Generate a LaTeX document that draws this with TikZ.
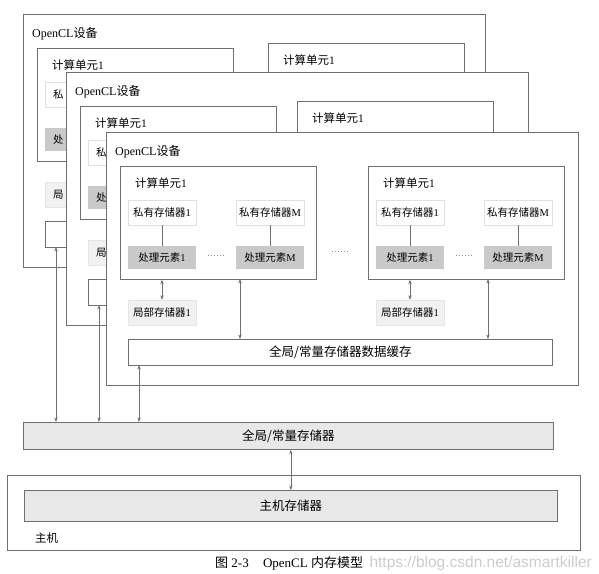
\documentclass[tikz,border=0pt]{standalone}
\usepackage{fontspec}
\setmainfont{Liberation Serif}
\newfontfamily\cjk{Noto Sans CJK SC}
\newfontfamily\wmfont{Liberation Sans}
\newcommand\zh[1]{{\cjk #1}}
\usepackage{tikz}
\usetikzlibrary{arrows.meta,positioning}
\usepackage{xcolor}
\definecolor{memline}{RGB}{112,112,112}
\definecolor{pefill}{RGB}{201,201,201}
\definecolor{locfill}{RGB}{241,241,241}
\definecolor{glbfill}{RGB}{232,232,232}
\tikzstyle{devframe} = [draw=memline, fill=white, line width=0.7pt, inner sep=0, anchor=north west]
\tikzstyle{unitbox} = [devframe, minimum width=196, minimum height=113]
\tikzstyle{cachebox} = [devframe, minimum width=424, minimum height=26]
\tikzstyle{title} = [anchor=west, inner sep=0, font=\fontsize{12}{14}\selectfont]
\tikzstyle{unitlbl} = [anchor=west, inner sep=0, font=\fontsize{11.5}{13}\selectfont]
\tikzstyle{privbox} = [draw=black!12, fill=white, minimum width=68, minimum height=25, inner sep=0, font=\fontsize{10.5}{12}\selectfont]
\tikzstyle{pebox} = [fill=pefill, minimum width=68, minimum height=23, inner sep=0, font=\fontsize{10.5}{12}\selectfont]
\tikzstyle{locbox} = [draw=black!10, fill=locfill, minimum width=68, minimum height=25, inner sep=0, font=\fontsize{10.5}{12}\selectfont]
\tikzstyle{part} = [text width=52, align=left]
\tikzstyle{membox} = [draw=memline, fill=glbfill, line width=0.7pt, inner sep=0, anchor=north west, font=\fontsize{12.5}{14}\selectfont]
\tikzstyle{more} = [inner sep=0, text=memline, font=\fontsize{9}{10}\selectfont]
\tikzstyle{memlink} = [draw=memline, line width=0.6pt, <->, >={Stealth[length=4.5pt,width=3.4pt]}]

\begin{document}
\begin{tikzpicture}[x=1pt, y=-1pt]
\useasboundingbox (0,0) rectangle (599,573);

% global memory and host
\node[membox, minimum width=530, minimum height=27] (gmem) at (23,422) {\zh{全局/常量存储器}};
\node[devframe, minimum width=573, minimum height=75] (host) at (7,475) {};
\node[membox, minimum width=533, minimum height=31] (hmem) at (24,490) {\zh{主机存储器}};
\node[unitlbl] (host-name) at (35,538) {\zh{主机}};
\draw[memlink] (hmem.north) -- (hmem.north |- gmem.south);

% OpenCL devices, back to front (only the front one is seen whole)
\foreach \dn/\dx/\dy/\dw/\rx/\ry/\full in {da/23/14/462/245/29/0, db/66/72/462/231/29/0, dc/106/132/472/262/34/1}{
  \node[devframe, minimum width=\dw, minimum height=253] (\dn) at (\dx,\dy) {};
  \node[title] (\dn-name) at (\dx+9,\dy+20) {OpenCL\zh{设备}};
  \node[cachebox] (\dn-cache) at (\dx+22,\dy+207) {};
  \coordinate (\dn-port) at (\dx+33,\dy+233);
  \foreach \cu/\cx/\cy in {cu1/\dx+14/\dy+34, cu2/\dx+\rx/\dy+\ry}{
    \node[unitbox] (\dn-\cu) at (\cx,\cy) {};
    \node[unitlbl] (\dn-\cu-name) at (\cx+15,\cy+17) {\zh{计算单元}1};
    \ifnum\full=1
      \node[privbox] (\dn-\cu-p1) at (\cx+42,\cy+46.5) {\zh{私有存储器}1};
      \node[privbox] (\dn-\cu-pm) at (\cx+150,\cy+46.5) {\zh{私有存储器}M};
      \node[pebox] (\dn-\cu-e1) at (\cx+42,\cy+91.5) {\zh{处理元素}1};
      \node[pebox] (\dn-\cu-em) at (\cx+150,\cy+91.5) {\zh{处理元素}M};
      \node[more] (\dn-\cu-more) at (\cx+96,\cy+90) {\ldots\ldots};
      \draw[memline, line width=0.6pt] (\dn-\cu-p1) -- (\dn-\cu-e1);
      \draw[memline, line width=0.6pt] (\dn-\cu-pm) -- (\dn-\cu-em);
      \node[locbox] (\dn-\cu-loc) at (\cx+42,\cy+146.5) {\zh{局部存储器}1};
      \draw[memlink] (\dn-\cu-loc.north) -- (\dn-\cu-loc.north |- \dn-\cu.south);
      \coordinate (\dn-\cu-out) at (\cx+120,\cy+113);
      \draw[memlink] (\dn-\cu-out) -- (\dn-\cu-out |- \dn-cache.north);
    \fi
  }
  \ifnum\full=1
    \node[more] (\dn-more) at (\dx+234,\dy+120) {\ldots\ldots};
    \node[font=\fontsize{12.5}{14}\selectfont] (\dn-cache-name) at (\dn-cache) {\zh{全局/常量存储器数据缓存}};
  \else
    % what shows of the hidden compute unit
    \node[privbox, part] (\dn-p1) at (\dx+56,\dy+80.5) {\zh{私}};
    \node[pebox, part] (\dn-e1) at (\dx+56,\dy+125.5) {\zh{处}};
    \node[locbox, part] (\dn-loc) at (\dx+56,\dy+180.5) {\zh{局}};
  \fi
}

% device caches to global memory
\foreach \dn in {da,db,dc}
  \draw[memlink] (\dn-port) -- (\dn-port |- gmem.north);

% caption
\node[anchor=east, inner sep=0, text=black!20, font=\wmfont\fontsize{15.5}{17}\selectfont] (mark) at (592,563) {https://blog.csdn.net/asmartkiller};
\node[anchor=west, inner sep=0, font=\fontsize{13}{15}\selectfont] (caption) at (215,563) {\zh{图} 2-3\hspace{1.1em}OpenCL\hspace{0.25em}\zh{内存模型}};
\end{tikzpicture}
\end{document}
